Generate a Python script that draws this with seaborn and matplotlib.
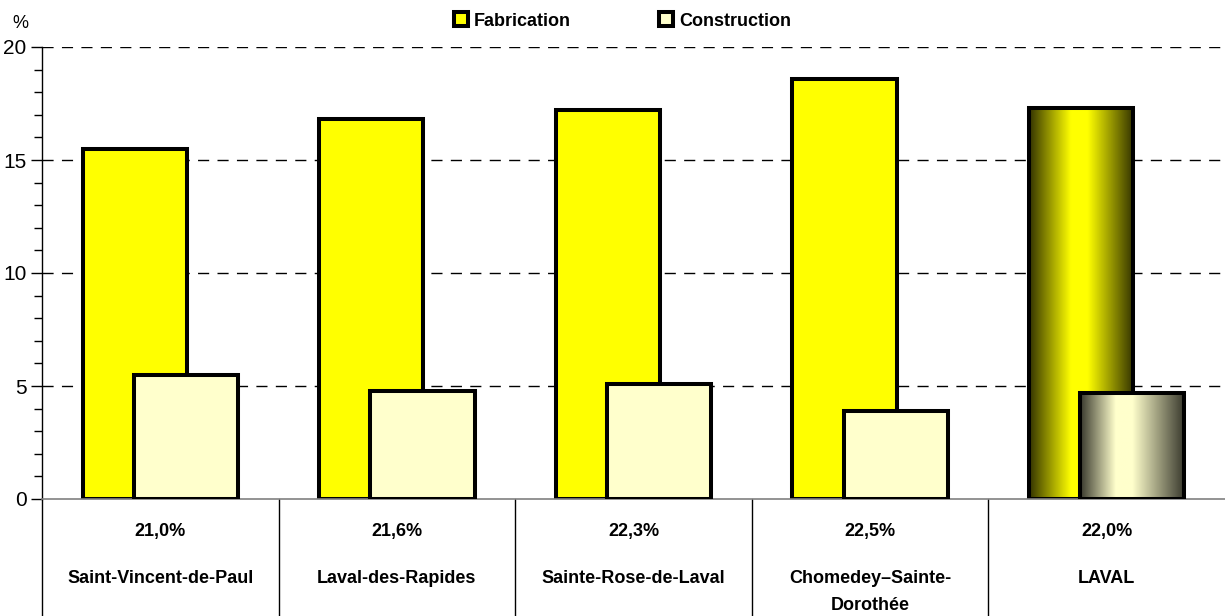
import numpy as np
import matplotlib.pyplot as plt
import matplotlib.transforms as mtransforms
from matplotlib.patches import Patch
from matplotlib.colors import to_rgb
from matplotlib.ticker import MultipleLocator
import seaborn as sns

# Données
secteurs = ["Saint-Vincent-de-Paul", "Laval-des-Rapides", "Sainte-Rose-de-Laval",
            "Chomedey\u2013Sainte-\nDorothée", "LAVAL"]
taux_secondaire = ["21,0%", "21,6%", "22,3%", "22,5%", "22,0%"]
fabrication = [15.5, 16.8, 17.2, 18.6, 17.3]
construction = [5.5, 4.8, 5.1, 3.9, 4.7]

sns.set_style("white")
plt.rcParams['font.family'] = ['Liberation Sans', 'DejaVu Sans']
plt.rcParams['text.color'] = 'black'
plt.rcParams['ytick.color'] = 'black'
plt.rcParams['ytick.labelcolor'] = 'black'

fig = plt.figure(figsize=(12.25, 6.16), dpi=100)
ax = fig.add_axes([42/1225, 117/616, 1183/1225, 452/616])

pos = np.arange(len(secteurs))
sns.barplot(x=pos - 0.108, y=fabrication, native_scale=True, width=0.44, orient='x',
            color='#ffff00', saturation=1, edgecolor='black', linewidth=2.9,
            errorbar=None, ax=ax)
sns.barplot(x=pos + 0.108, y=construction, native_scale=True, width=0.44, orient='x',
            color='#ffffcc', saturation=1, edgecolor='black', linewidth=2.9,
            errorbar=None, ax=ax)

n = len(secteurs)
barres_fab = ax.patches[:n]
barres_con = ax.patches[n:2*n]
for p in barres_fab:
    p.set_zorder(2)
for p in barres_con:
    p.set_zorder(2.6)


# Dégradé pour la barre LAVAL
def degrade(patch, base, z, pic, bord):
    x0, y0 = patch.get_x(), patch.get_y()
    w, h = patch.get_width(), patch.get_height()
    t = np.linspace(0, 1, 200)
    f = np.interp(t, [0, pic - 0.08, pic + 0.08, 1], [bord, 1, 1, bord])
    img = np.array(to_rgb(base))[None, None, :] * f[None, :, None]
    im = ax.imshow(img, extent=[x0, x0 + w, y0, y0 + h], aspect='auto',
                   zorder=z, interpolation='bilinear')
    im.set_clip_path(patch)
    patch.set_facecolor('none')


degrade(barres_fab[-1], '#ffff00', 1.9, 0.48, 0.2)
degrade(barres_con[-1], '#ffffcc', 2.5, 0.42, 0.22)

ax.set_xlim(-0.5, n - 0.5)
ax.set_ylim(0, 20)
ax.set_xticks([])
ax.set_xlabel('')
ax.set_yticks([0, 5, 10, 15, 20])
ax.yaxis.set_minor_locator(MultipleLocator(1))
ax.tick_params(axis='y', which='major', left=True, direction='out', length=8,
               width=1, color='black', labelsize=15, pad=3)
ax.tick_params(axis='y', which='minor', left=True, direction='out', length=6,
               width=1, color='black')

# Lignes de grille pointillées
for v in [5, 10, 15, 20]:
    ax.axhline(v, color='black', lw=1, linestyle=(0, (8, 6)), zorder=1)

for s in ['top', 'right']:
    ax.spines[s].set_visible(False)
ax.spines['left'].set_color('black')
ax.spines['left'].set_linewidth(1)
ax.spines['bottom'].set_color('#808080')
ax.spines['bottom'].set_linewidth(1.2)

# Tableau sous le graphique
trans = mtransforms.blended_transform_factory(ax.transData, ax.transAxes)
for b in np.arange(-0.5, n - 0.5, 1.0):
    ax.plot([b, b], [0, -0.27], transform=trans, clip_on=False, color='black', lw=1)
for i in pos:
    ax.text(i, -0.072, taux_secondaire[i], transform=trans, ha='center',
            va='center', fontsize=13, fontweight='bold')
    ax.text(i, -0.157, secteurs[i], transform=trans, ha='center', va='top',
            fontsize=13, fontweight='bold', linespacing=1.75)

fig.text(20/1225, 1 - 23/616, '%', fontsize=13, ha='center', va='center')

handles = [Patch(facecolor='#ffff00', edgecolor='black', linewidth=2.9, label='Fabrication'),
           Patch(facecolor='#ffffcc', edgecolor='black', linewidth=2.9, label='Construction')]
leg = fig.legend(handles=handles, loc='center', bbox_to_anchor=(0.508, 1 - 21/616),
                 ncol=2, frameon=False, handlelength=0.8, handleheight=0.8,
                 handletextpad=0.3, columnspacing=4.9,
                 prop={'size': 13, 'weight': 'bold'})

fig.savefig('out.png', dpi=100)
